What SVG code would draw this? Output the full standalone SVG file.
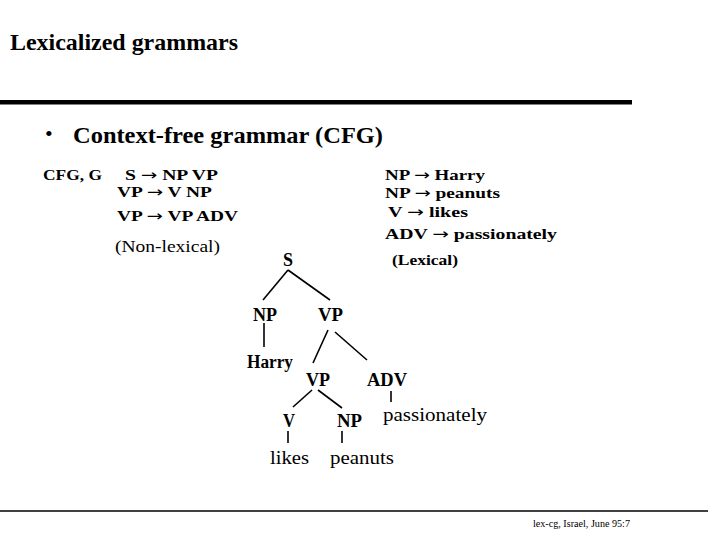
<svg xmlns="http://www.w3.org/2000/svg" width="720" height="540" viewBox="0 0 720 540">
<style>
text{font-family:"Liberation Serif","DejaVu Serif",serif;fill:#000}
.b{font-weight:bold}
.r{font-size:15px;font-weight:bold}
.a{font-family:"DejaVu Sans",sans-serif;font-weight:normal}
.n{font-size:18px;font-weight:bold}
.t{font-size:18px}
.e{stroke:#000;stroke-width:1.6;fill:none}
</style>
<rect width="720" height="540" fill="#fff"/>
<text x="10" y="50" class="b" font-size="22.5" textLength="228" lengthAdjust="spacingAndGlyphs">Lexicalized grammars</text>
<rect x="0" y="100" width="632" height="4.5" fill="#000"/>
<text x="45" y="141" font-size="22">•</text>
<text x="73" y="143" class="b" font-size="23" textLength="310" lengthAdjust="spacingAndGlyphs">Context-free grammar (CFG)</text>
<g id="rules-nonlexical">
<text x="43" y="180" class="r" textLength="59" lengthAdjust="spacingAndGlyphs">CFG, G</text>
<text x="125" y="180" class="r" textLength="93" lengthAdjust="spacingAndGlyphs">S <tspan class="a">→</tspan> NP VP</text>
<text x="117" y="197" class="r" textLength="95" lengthAdjust="spacingAndGlyphs">VP <tspan class="a">→</tspan> V NP</text>
<text x="117" y="221" class="r" textLength="121" lengthAdjust="spacingAndGlyphs">VP <tspan class="a">→</tspan> VP ADV</text>
<text x="115" y="252" font-size="16" textLength="105" lengthAdjust="spacingAndGlyphs">(Non-lexical)</text>
</g>
<g id="rules-lexical">
<text x="385" y="180" class="r" textLength="100" lengthAdjust="spacingAndGlyphs">NP <tspan class="a">→</tspan> Harry</text>
<text x="385" y="198" class="r" textLength="115" lengthAdjust="spacingAndGlyphs">NP <tspan class="a">→</tspan> peanuts</text>
<text x="388" y="217" class="r" textLength="80" lengthAdjust="spacingAndGlyphs">V <tspan class="a">→</tspan> likes</text>
<text x="385" y="239" class="r" textLength="172" lengthAdjust="spacingAndGlyphs">ADV <tspan class="a">→</tspan> passionately</text>
<text x="392" y="265" class="r" textLength="66" lengthAdjust="spacingAndGlyphs">(Lexical)</text>
</g>
<g id="connectors">
<line class="e" x1="288" y1="270" x2="263" y2="300"/>
<line class="e" x1="288" y1="270" x2="330" y2="300"/>
<line class="e" x1="264" y1="323" x2="264" y2="347"/>
<line class="e" x1="328" y1="330" x2="313" y2="363"/>
<line class="e" x1="335" y1="332" x2="367" y2="360"/>
<line class="e" x1="391" y1="391" x2="391" y2="402"/>
<line class="e" x1="312" y1="390" x2="293" y2="407"/>
<line class="e" x1="318" y1="390" x2="342" y2="408"/>
<line class="e" x1="288" y1="431" x2="288" y2="443"/>
<line class="e" x1="342" y1="431" x2="342" y2="443"/>
</g>
<g id="node-S"><text x="283" y="266" class="n" textLength="10" lengthAdjust="spacingAndGlyphs">S</text></g>
<g id="node-NP"><text x="253" y="321" class="n" textLength="24" lengthAdjust="spacingAndGlyphs">NP</text></g>
<g id="node-VP"><text x="318" y="321" class="n" textLength="25" lengthAdjust="spacingAndGlyphs">VP</text></g>
<g id="node-Harry"><text x="247" y="368" class="n" textLength="46" lengthAdjust="spacingAndGlyphs">Harry</text></g>
<g id="node-VP2"><text x="306" y="386" class="n" textLength="24" lengthAdjust="spacingAndGlyphs">VP</text></g>
<g id="node-ADV"><text x="367" y="386" class="n" textLength="40" lengthAdjust="spacingAndGlyphs">ADV</text></g>
<g id="node-V"><text x="283" y="427" class="n" textLength="12" lengthAdjust="spacingAndGlyphs">V</text></g>
<g id="node-NP2"><text x="337" y="427" class="n" textLength="25" lengthAdjust="spacingAndGlyphs">NP</text></g>
<g id="node-passionately"><text x="383" y="421" class="t" textLength="104" lengthAdjust="spacingAndGlyphs">passionately</text></g>
<g id="node-likes"><text x="270" y="464" class="t" textLength="39" lengthAdjust="spacingAndGlyphs">likes</text></g>
<g id="node-peanuts"><text x="330" y="464" class="t" textLength="64" lengthAdjust="spacingAndGlyphs">peanuts</text></g>
<line x1="0" y1="511" x2="708" y2="511" stroke="#000" stroke-width="1.5"/>
<text x="533" y="527" font-size="10" textLength="97" lengthAdjust="spacingAndGlyphs">lex-cg, Israel, June 95:7</text>
</svg>
